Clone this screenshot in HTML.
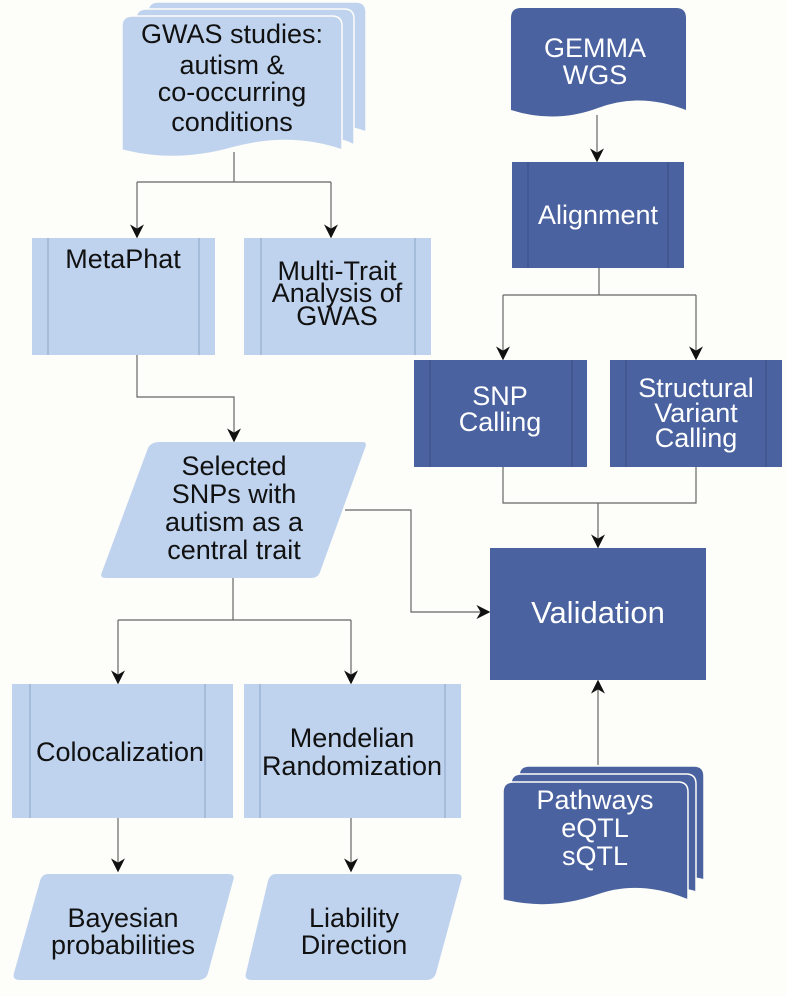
<!DOCTYPE html>
<html><head><meta charset="utf-8"><style>
html,body{margin:0;padding:0;background:#fdfdf9;}
svg{display:block;}
text{font-family:"Liberation Sans",Arial,sans-serif;font-size:27px;text-anchor:middle;}
.l{fill:#bfd3ee;}
.d{fill:#4a629f;}
.lt{fill:#111;}
.dt{fill:#fff;}
.c{stroke:#666;stroke-width:1.2;fill:none;}
.il{stroke:#8ea6c8;stroke-width:1;}
.idl{stroke:#3a4f85;stroke-width:1;}
</style></head><body>
<svg width="786" height="996" viewBox="0 0 786 996">
<defs>
<marker id="a" viewBox="0 0 10 10" refX="9" refY="5" markerWidth="14" markerHeight="14" markerUnits="userSpaceOnUse" orient="auto"><path d="M0,0 L10,5 L0,10 L3,5 z" fill="#111"/></marker>
</defs>
<g class="l" stroke="#fdfdf9" stroke-width="1.5">
<path d="M158,2 H356 Q366,2 366,12 V132 Q350,126 342,128 V20 H148 V12 Q148,2 158,2 z"/>
<path d="M146,9 H344 Q354,9 354,19 V145 Q345,140 335,139 V25 H136 V19 Q136,9 146,9 z"/>
<path d="M132,16 H332 Q342,16 342,26 V150 Q290,132 232,148 Q175,164 122,150 V26 Q122,16 132,16 z"/>
</g>
<g style="font-size:28.5px">
<text class="lt" x="232" y="43">GWAS studies:</text>
<text class="lt" x="232" y="74">autism &amp;</text>
<text class="lt" x="232" y="101">co-occurring</text>
<text class="lt" x="232" y="131">conditions</text>
</g>
<path class="c" d="M234,152 V182 M137,182 H331"/>
<path class="c" d="M137,182 V237" marker-end="url(#a)"/>
<path class="c" d="M331,182 V237" marker-end="url(#a)"/>
<rect class="l" x="32" y="238" width="183" height="117"/>
<path class="il" d="M48,238 V355 M199,238 V355"/>
<text class="lt" x="123" y="268">MetaPhat</text>
<rect class="l" x="244" y="238" width="187" height="117"/>
<path class="il" d="M261,238 V355 M415,238 V355"/>
<text class="lt" x="337" y="280">Multi-Trait</text>
<text class="lt" x="337" y="302">Analysis of</text>
<text class="lt" x="337" y="325">GWAS</text>
<path class="c" d="M137,355 V397 H234 V441" marker-end="url(#a)"/>
<path class="l" d="M160,442 H362 Q368,442 365,448 L320,572 Q318,578 311,578 H106 Q99,578 102,572 L148,448 Q151,442 160,442 z"/>
<text class="lt" x="234" y="475">Selected</text>
<text class="lt" x="234" y="503">SNPs with</text>
<text class="lt" x="234" y="531">autism as a</text>
<text class="lt" x="234" y="559">central trait</text>
<path class="c" d="M345,510 H411 V612 H489" marker-end="url(#a)"/>
<path class="c" d="M233,578 V620 M118,620 H351"/>
<path class="c" d="M118,620 V683" marker-end="url(#a)"/>
<path class="c" d="M351,620 V683" marker-end="url(#a)"/>
<rect class="l" x="12" y="684" width="221" height="134"/>
<path class="il" d="M30,684 V818 M205,684 V818"/>
<text class="lt" x="120" y="761">Colocalization</text>
<rect class="l" x="244" y="684" width="217" height="134"/>
<path class="il" d="M260,684 V818 M445,684 V818"/>
<text class="lt" x="352" y="747">Mendelian</text>
<text class="lt" x="352" y="775">Randomization</text>
<path class="c" d="M118,818 V871" marker-end="url(#a)"/>
<path class="c" d="M351,818 V871" marker-end="url(#a)"/>
<path class="l" d="M48,874 H228 Q236,874 233,881 L208,973 Q206,980 198,980 H20 Q12,980 14,973 L40,881 Q42,874 48,874 z"/>
<text class="lt" x="123" y="927">Bayesian</text>
<text class="lt" x="123" y="954">probabilities</text>
<path class="l" d="M276,874 H456 Q464,874 461,881 L436,973 Q434,980 426,980 H252 Q244,980 246,973 L268,881 Q270,874 276,874 z"/>
<text class="lt" x="354" y="927">Liability</text>
<text class="lt" x="354" y="954">Direction</text>
<path class="d" d="M521,8 H676 Q686,8 686,18 V110 Q640,92 598,108 Q555,124 511,110 V18 Q511,8 521,8 z"/>
<text class="dt" x="595" y="57">GEMMA</text>
<text class="dt" x="595" y="84">WGS</text>
<path class="c" d="M597,115 V161" marker-end="url(#a)"/>
<rect class="d" x="512" y="162" width="172" height="106"/>
<path class="idl" d="M528,162 V268 M668,162 V268"/>
<text class="dt" x="598" y="224">Alignment</text>
<path class="c" d="M599,268 V295 M503,295 H696"/>
<path class="c" d="M503,295 V359" marker-end="url(#a)"/>
<path class="c" d="M696,295 V359" marker-end="url(#a)"/>
<rect class="d" x="414" y="360" width="173" height="107"/>
<path class="idl" d="M430,360 V467 M572,360 V467"/>
<text class="dt" x="500" y="405">SNP</text>
<text class="dt" x="500" y="431">Calling</text>
<rect class="d" x="610" y="360" width="172" height="107"/>
<path class="idl" d="M626,360 V467 M766,360 V467"/>
<text class="dt" x="696" y="397">Structural</text>
<text class="dt" x="696" y="422">Variant</text>
<text class="dt" x="696" y="447">Calling</text>
<path class="c" d="M503,467 V503 H696 V467 M598,503 V547" marker-end="url(#a)"/>
<rect class="d" x="490" y="548" width="216" height="132"/>
<text class="dt" x="598" y="623" style="font-size:31px">Validation</text>
<path class="c" d="M598,765 V681" marker-end="url(#a)"/>
<g class="d" stroke="#fdfdf9" stroke-width="1.5">
<path d="M529,766 H694 Q704,766 704,776 V880 Q698,878 690,878 V782 H519 V776 Q519,766 529,766 z"/>
<path d="M521,774 H686 Q696,774 696,784 V892 Q690,890 682,889 V790 H511 V784 Q511,774 521,774 z"/>
<path d="M513,782 H678 Q688,782 688,792 V900 Q640,880 598,895 Q550,912 503,900 V792 Q503,782 513,782 z"/>
</g>
<text class="dt" x="595" y="809">Pathways</text>
<text class="dt" x="595" y="837">eQTL</text>
<text class="dt" x="595" y="865">sQTL</text>
</svg>
</body></html>
